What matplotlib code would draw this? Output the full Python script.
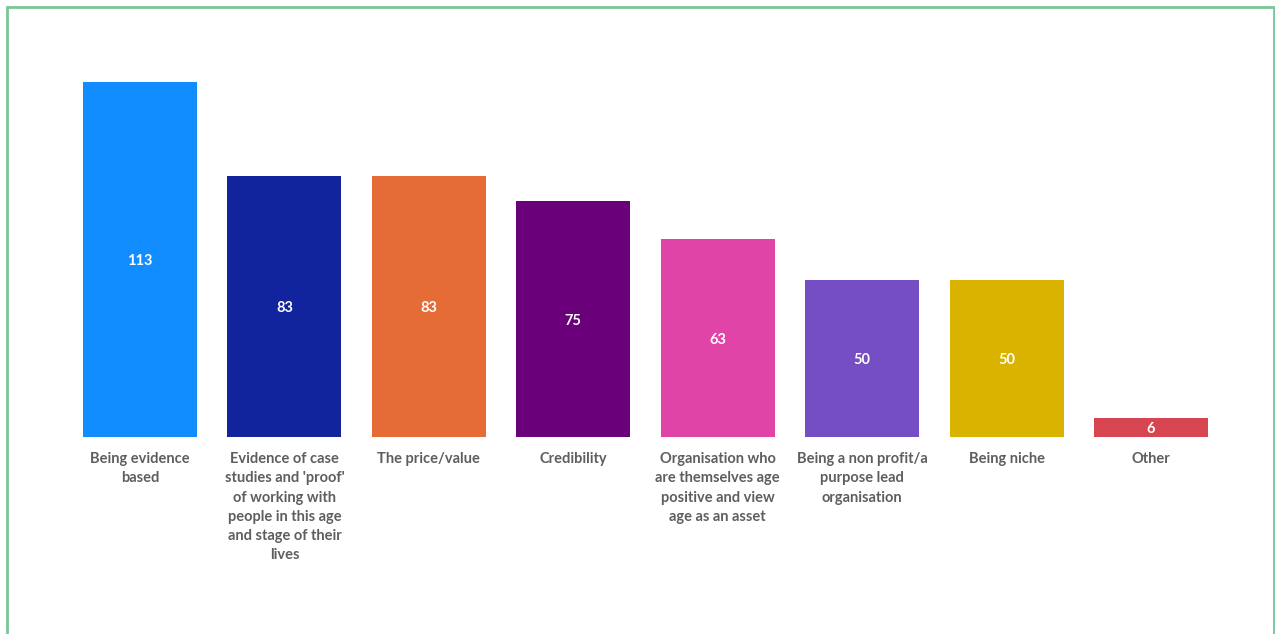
import matplotlib.pyplot as plt
from matplotlib.patches import Rectangle

categories = [
    "Being evidence\nbased",
    "Evidence of case\nstudies and 'proof'\nof working with\npeople in this age\nand stage of their\nlives",
    "The price/value",
    "Credibility",
    "Organisation who\nare themselves age\npositive and view\nage as an asset",
    "Being a non profit/a\npurpose lead\norganisation",
    "Being niche",
    "Other",
]
counts = [113, 83, 83, 75, 63, 50, 50, 6]
colors = ["#118DFF", "#12239E", "#E66C37", "#6B007B",
          "#E044A7", "#744EC2", "#D9B300", "#D64550"]

plt.rcParams["font.family"] = ["Lato", "DejaVu Sans"]

W, H = 1275, 634
fig = plt.figure(figsize=(W / 100, H / 100), dpi=100)
ax = fig.add_axes([67.8 / W, (H - 437) / H, 1155.4 / W, 355 / H])

x = range(len(counts))
bars = ax.bar(x, counts, width=0.79, color=colors)

for rect, v in zip(bars, counts):
    ax.text(rect.get_x() + rect.get_width() / 2, v / 2, str(v),
            ha="center", va="center_baseline", color="white",
            fontsize=10.5, fontweight="bold")

ax.set_xlim(-0.5, len(counts) - 0.5)
ax.set_ylim(0, 113)
ax.set_xticks(list(x))
ax.set_xticklabels(categories, fontsize=10.5, fontweight="bold",
                   color="#605E5C", linespacing=1.47, va="top")
ax.tick_params(axis="x", length=0, pad=11)
ax.set_yticks([])
for s in ax.spines.values():
    s.set_visible(False)

# green frame around the panel
fig.patches.append(Rectangle((6.5 / W, -0.1), (1273.5 - 6.5) / W, (H - 6.5) / H + 0.1,
                             transform=fig.transFigure, fill=False,
                             edgecolor="#7BC59A", linewidth=2))

fig.savefig("out.png", dpi=100, facecolor="white")
